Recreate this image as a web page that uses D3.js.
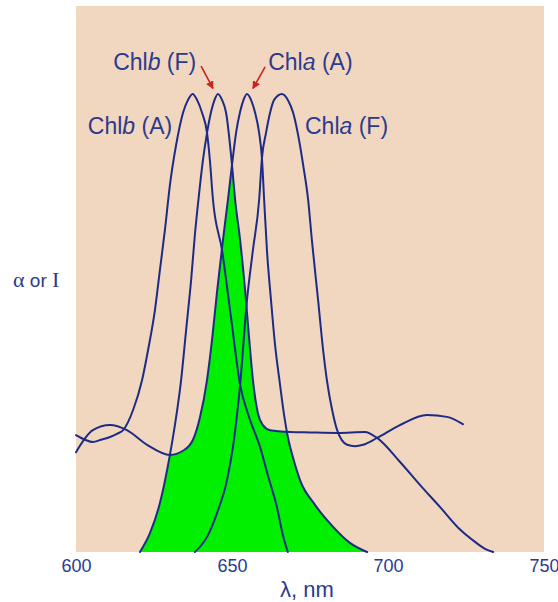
<!DOCTYPE html>
<html>
<head>
<meta charset="utf-8">
<script src="https://cdn.jsdelivr.net/npm/d3@7"></script>
<style>
  html, body { margin: 0; padding: 0; background: #ffffff; }
  svg { display: block; }
</style>
</head>
<body>
<svg id="chart" width="558" height="602"></svg>
<script>
// ---- data: [wavelength nm, relative intensity] ----
const chlbA = [
  [600,25.5],[602.9,24.5],[605.4,24.0],[608.0,24.5],[610.9,25.1],[613.1,25.8],[615.1,26.6],
  [618.3,31.0],[621.2,37.6],[623.1,44.1],[625.3,52.8],[626.9,61.6],[628.5,70.3],[630.1,80.1],
  [632.1,88.9],[634.3,95.9],[635.9,98.7],[637.4,100],[638.8,98.7],[640.4,95.9],[642.0,91.5],
  [642.9,85.6],[643.9,76.9],[646.8,65.9],[649.7,51.1],[652.6,36.5],[655.2,30.0],[659.0,22.9],
  [661.6,16.5],[664.4,9.8],[666.3,3.7],[667.9,0]
];
const chlbF = [
  [620.5,0],[623.7,4.1],[626.9,10.7],[630.1,21.2],[631.7,27.7],[633.7,37.6],[635.3,48.5],
  [636.9,59.4],[638.1,69.2],[639.4,77.9],[640.7,85.6],[642.0,91.5],[643.3,96.1],[644.4,98.7],
  [645.5,100],[646.8,98.7],[648.1,95.9],[650.0,84.5],[651.0,76.9],[652.6,68.1],[654.2,57.2],
  [655.4,47.4],[656.7,37.6],[658.3,30.3],[659.9,27.7],[662.2,26.6],[668.6,26.2],[675.0,26.1],
  [684.0,26.0],[692.6,26.2],[696.5,24.9],[703.8,19.7],[710.3,14.6],[716.7,9.8],[723.1,4.9],
  [727.9,2.2],[731.1,0.7],[733.7,0]
];
const chlaA = [
  [600,21.8],[605.4,26.6],[610.9,27.7],[616.3,26.6],[622.8,23.4],[630.1,21.2],[634.3,22.1],
  [637.5,24.5],[639.7,29.3],[642.0,37.6],[643.6,46.3],[645.2,56.8],[647.1,68.1],[648.7,76.9],
  [650.0,84.5],[651.3,91.5],[652.6,96.1],[653.7,98.7],[654.8,100],[656.1,98.7],[657.4,95.9],
  [658.7,91.5],[659.6,86.0],[660.3,76.9],[661.2,65.9],[662.5,55.0],[663.8,45.2],[665.4,36.5],
  [666.7,29.9],[667.9,25.1],[669.6,20.5],[671.8,15.7],[676.6,10.3],[682.4,5.5],[687.8,2.0],
  [693.3,0]
];
const chlaF = [
  [638.1,0],[642.0,3.3],[645.2,8.5],[648.4,15.7],[650.3,22.9],[652.6,36.5],[654.8,55.0],
  [656.7,65.9],[658.7,76.9],[659.6,86.0],[660.9,91.5],[662.2,95.9],[663.5,98.7],[666.0,100],
  [667.9,98.7],[669.6,95.9],[671.2,91.0],[672.8,84.5],[674.4,76.9],[675.6,68.1],[677.6,55.0],
  [679.2,44.1],[680.4,37.6],[682.1,31.0],[683.7,26.6],[686.9,23.4],[689.4,23.1],[692.0,23.4],
  [696.5,24.9],[703.8,27.7],[712.5,29.9],[718.9,29.5],[724.0,27.9]
];
const xTicks = [600, 650, 700, 750];
const xDomain = [600, 750];
const yDomain = [0, 119.2];
// labels: [text before italic, italic letter, text after, nm, value]
const labels = [
  ["Chl", "b", " (A)", 603.8, 91.3],
  ["Chl", "b", " (F)", 611.9, 105.2],
  ["Chl", "a", " (A)", 661.6, 105.2],
  ["Chl", "a", " (F)", 673.4, 91.3]
];
// arrows: [fromNm, fromVal, toNm, toVal]
const arrows = [
  [640.1, 106.1, 643.9, 101.2],
  [660.6, 105.9, 656.7, 101.2]
];
const xTitle = "λ, nm";

// ---- drawing ----
const svg = d3.select("#chart");
const x = d3.scaleLinear().domain(xDomain).range([76, 544]);
const y = d3.scaleLinear().domain(yDomain).range([552, 6]);

const navy = "#1d2b86";
const textCol = "#2c3a8e";

svg.append("rect")
  .attr("x", x(xDomain[0])).attr("y", y(yDomain[1]))
  .attr("width", x(xDomain[1]) - x(xDomain[0]))
  .attr("height", y(yDomain[0]) - y(yDomain[1]))
  .attr("fill", "#f1d7bf");

const line = d3.line().x(d => x(d[0])).y(d => y(d[1])).curve(d3.curveMonotoneX);
const area = d3.area().x(d => x(d[0])).y0(y(0)).y1(d => y(d[1])).curve(d3.curveMonotoneX);

const defs = svg.append("defs");
defs.append("clipPath").attr("id", "clipF")
  .append("path").attr("d", area(chlbF));

// overlap of Chl b fluorescence with Chl a absorption
svg.append("path")
  .attr("d", area(chlaA))
  .attr("fill", "#00f000")
  .attr("clip-path", "url(#clipF)");

[chlbA, chlbF, chlaA, chlaF].forEach(s => {
  svg.append("path")
    .attr("d", line(s))
    .attr("fill", "none")
    .attr("stroke", navy)
    .attr("stroke-width", 2)
    .attr("stroke-linejoin", "round")
    .attr("stroke-linecap", "round");
});

// x axis
const axis = d3.axisBottom(x).tickValues(xTicks).tickSize(0).tickPadding(7)
  .tickFormat(d3.format("d"));
const gx = svg.append("g").attr("transform", `translate(0,${y(0)})`).call(axis);
gx.select(".domain").remove();
gx.selectAll("text")
  .attr("fill", textCol)
  .style("font-family", "'Liberation Sans', Arial, sans-serif")
  .style("font-size", "18px");

svg.append("text")
  .attr("x", 280).attr("y", 597)
  .attr("fill", textCol)
  .style("font-family", "'Liberation Sans', Arial, sans-serif")
  .style("font-size", "22px")
  .text(xTitle);

// y title
const yt = svg.append("text")
  .attr("x", 13).attr("y", 287)
  .attr("fill", textCol)
  .style("font-size", "22px");
yt.append("tspan").style("font-family", "'Liberation Serif', 'Times New Roman', serif").text("α");
yt.append("tspan").style("font-family", "'Liberation Sans', Arial, sans-serif").style("font-size", "19px").text(" or ");
yt.append("tspan").style("font-family", "'Liberation Serif', 'Times New Roman', serif").text("I");

// curve labels
labels.forEach(l => {
  const t = svg.append("text")
    .attr("x", x(l[3])).attr("y", y(l[4]))
    .attr("fill", textCol)
    .style("font-family", "'Liberation Sans', Arial, sans-serif")
    .style("font-size", "23px");
  t.append("tspan").text(l[0]);
  t.append("tspan").style("font-style", "italic").text(l[1]);
  t.append("tspan").text(l[2]);
});

// arrows
defs.append("marker").attr("id", "ah")
  .attr("viewBox", "0 0 10 10").attr("refX", 9).attr("refY", 5)
  .attr("markerWidth", 8).attr("markerHeight", 8)
  .attr("markerUnits", "userSpaceOnUse")
  .attr("orient", "auto")
  .append("path").attr("d", "M0,0 L10,5 L0,10 Z").attr("fill", "#cc2222");
arrows.forEach(a => {
  svg.append("line")
    .attr("x1", x(a[0])).attr("y1", y(a[1]))
    .attr("x2", x(a[2])).attr("y2", y(a[3]))
    .attr("stroke", "#cc2222").attr("stroke-width", 1.6)
    .attr("marker-end", "url(#ah)");
});
</script>
</body>
</html>
